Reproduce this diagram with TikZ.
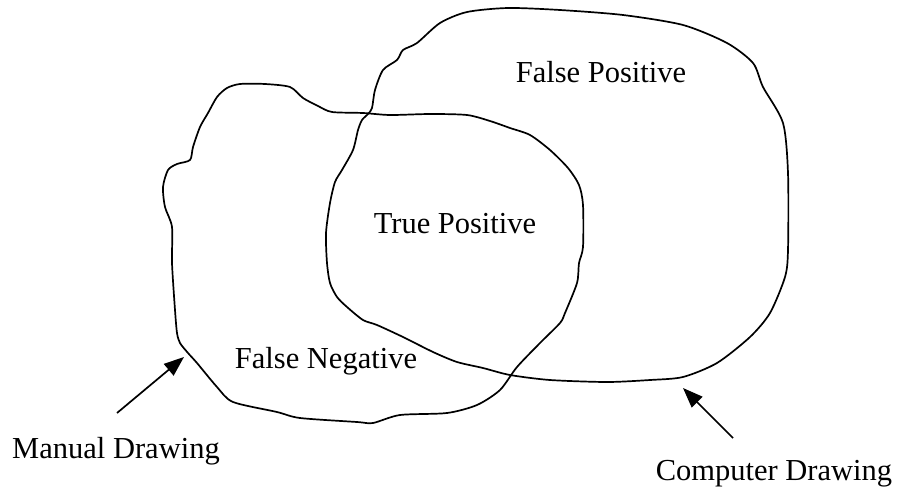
\documentclass[tikz,border=0pt]{standalone}
\usepackage{fontspec}
\setmainfont{Liberation Serif}
\usetikzlibrary{arrows.meta}
\begin{document}
\begin{tikzpicture}[x=1pt,y=-1pt,
  outline/.style={draw=black,line width=1.7pt,line join=round},
  pointer/.style={draw=black,line width=1.7pt,-{Triangle[length=20pt,width=15pt]}},
  lbl/.style={anchor=base,inner sep=0pt,font=\fontsize{30.5}{36}\selectfont}]
\useasboundingbox (0,0) rectangle (899,487);

% manual outline (left blob)
\draw[outline] plot[smooth cycle,tension=0.45] coordinates {
  (217,97) (227,88) (240,84) (265,84) (290,87) (303,98) (318,106) (332,112)
  (363,113) (390,115) (430,114) (467,115) (490,121) (510,128) (530,135)
  (550,150) (568,168) (579,185) (583,205) (583,247) (579,263) (577,283)
  (565,313) (560,323) (540,343) (517,367) (500,390) (477,405) (447,413)
  (400,415) (373,423) (357,422) (300,418) (277,412) (233,402) (217,387)
  (197,363) (188,353) (180,343) (177,333) (175,310) (172,263) (172,227)
  (165,207) (163,187) (168,170) (177,164) (190,160) (193,147) (200,127)
  (208,113)};

% computer outline (right blob)
\draw[outline] plot[smooth cycle,tension=0.45] coordinates {
  (508,8) (560,10) (623,15) (683,25) (727,43) (753,63) (763,87) (783,123)
  (788,173) (788,250) (785,277) (770,313) (750,337) (717,363) (683,377)
  (650,380) (607,382) (550,380) (510,375) (483,368) (457,362) (433,352)
  (403,337) (377,325) (363,320) (347,307) (337,297) (330,283) (327,263)
  (326,233) (330,203) (335,182) (342,170) (353,150) (358,130) (362,120)
  (368,114) (372,108) (375,90) (383,70) (397,60) (403,50) (417,43)
  (440,23) (467,12)};

% region labels
\node[lbl] (fp) at (601,82) {False Positive};
\node[lbl] (tp) at (455,233) {True Positive};
\node[lbl] (fn) at (326,368) {False Negative};

% outline captions with pointers
\node[lbl] (manual) at (116,458) {Manual Drawing};
\node[lbl] (computer) at (774,480) {Computer Drawing};
\coordinate (mtail) at (117,413);
\coordinate (mtip) at (184,357);
\coordinate (ctail) at (733,438);
\coordinate (ctip) at (683,388);
\draw[pointer] (mtail) -- (mtip);
\draw[pointer] (ctail) -- (ctip);
\end{tikzpicture}
\end{document}
